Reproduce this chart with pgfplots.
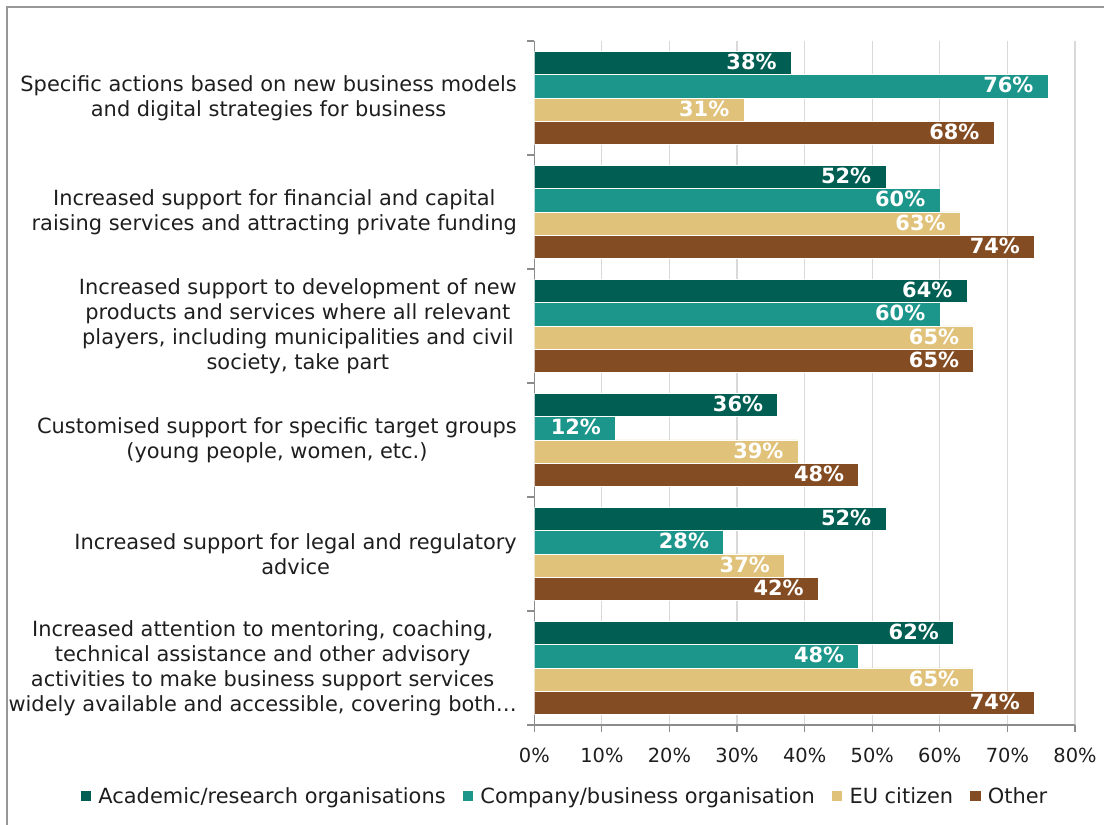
\documentclass[border=0pt]{standalone}
\usepackage{fontspec}
\setmainfont{DejaVu Sans}
\usepackage{pgfplots}
\pgfplotsset{compat=1.18}
\definecolor{acad}{HTML}{005E52}
\definecolor{comp}{HTML}{1C958A}
\definecolor{euc}{HTML}{E0C27A}
\definecolor{oth}{HTML}{844C22}
\definecolor{gridc}{HTML}{D9D9D9}
\definecolor{axc}{HTML}{8C8C8C}
\definecolor{txt}{HTML}{1E1E1E}
\begin{document}
\begin{tikzpicture}[x=1bp,y=1bp]
\useasboundingbox (0,0) rectangle (1104,825);
\draw[axc!90, line width=1.6bp] (6.7,0) -- (6.7,818) -- (1104,818);
\begin{axis}[
  at={(534.3bp,100bp)}, anchor=south west,
  scale only axis, width=540.7bp, height=684bp,
  xbar=0pt, bar width=23.3bp,
  xmin=0, xmax=80, ymin=-0.5, ymax=5.5,
  axis lines*=left,
  axis line style={-, axc, line width=1.2bp},
  tick style={axc, line width=1.2bp},
  tick align=outside, major tick length=7bp,
  xtick={0,10,...,80},
  xticklabel={\pgfmathprintnumber{\tick}\%},
  xticklabel style={font=\fontsize{19.5}{23}\selectfont, text=txt, yshift=-13bp},
  /pgf/number format/assume math mode=true,
  ytick={-0.5,0.5,...,5.5},
  yticklabels={},
  extra y ticks={0,1,2,3,4,5},
  extra y tick labels={
    {Increased attention to mentoring, coaching,\\technical assistance and other advisory\\activities to make business support services\\widely available and accessible, covering both…},
    {Increased support for legal and regulatory\\advice},
    {Customised support for specific target groups\\(young people, women, etc.)},
    {Increased support to development of new\\products and services where all relevant\\players, including municipalities and civil\\society, take part},
    {Increased support for financial and capital\\raising services and attracting private funding},
    {Specific actions based on new business models\\and digital strategies for business}},
  extra y tick style={major tick length=0pt, grid=none},
  yticklabel style={align=center, font=\fontsize{21}{25}\selectfont, text=txt, xshift=-14bp},
  xmajorgrids, grid style={gridc, line width=1.2bp},
  point meta=x,
  nodes near coords={\pgfmathprintnumber{\pgfplotspointmeta}\%},
  nodes near coords align={anchor=east},
  every node near coord/.append style={text=white, font=\bfseries\fontsize{21}{25}\selectfont, xshift=-11bp, yshift=1bp},
  legend columns=-1,
  reverse legend,
  legend style={at={(axis description cs:0.0568,-0.1038)}, anchor=center, draw=none, fill=none,
    font=\fontsize{21}{25}\selectfont, text=txt,
    /tikz/every even column/.append style={column sep=15bp}},
  legend image code/.code={\fill[#1, draw=none] (0bp,-5.2bp) rectangle (10.5bp,5.2bp); \path (15.5bp,0bp);},
]
\addplot[fill=oth, draw=white, line width=0.5bp] coordinates {(68,5) (74,4) (65,3) (48,2) (42,1) (74,0)};
\addplot[fill=euc, draw=white, line width=0.5bp] coordinates {(31,5) (63,4) (65,3) (39,2) (37,1) (65,0)};
\addplot[fill=comp, draw=white, line width=0.5bp] coordinates {(76,5) (60,4) (60,3) (12,2) (28,1) (48,0)};
\addplot[fill=acad, draw=white, line width=0.5bp] coordinates {(38,5) (52,4) (64,3) (36,2) (52,1) (62,0)};
\legend{Other, EU citizen, Company/business organisation, Academic/research organisations}
\end{axis}
\end{tikzpicture}
\end{document}
